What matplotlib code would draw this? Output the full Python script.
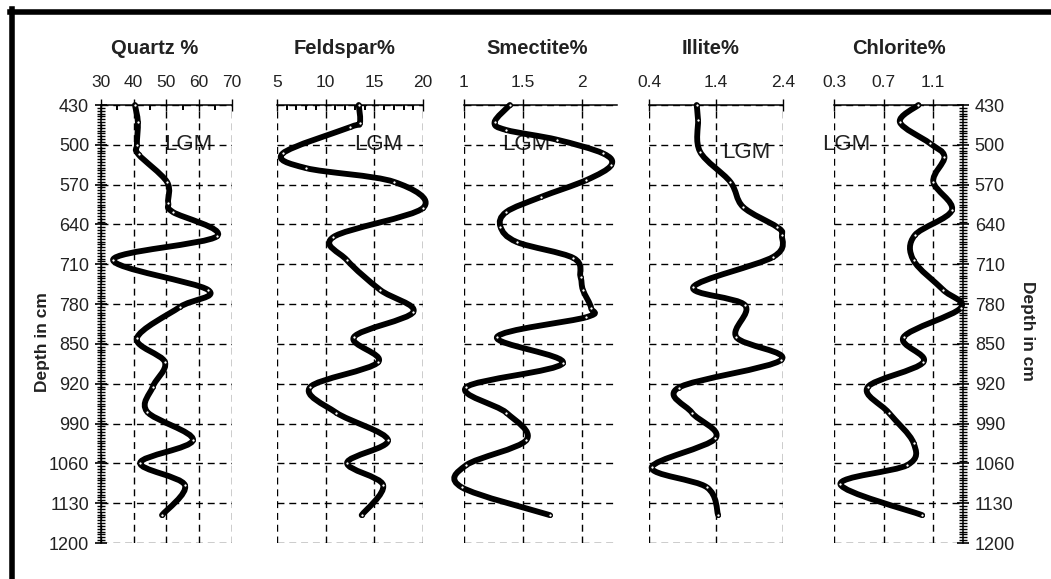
import matplotlib
matplotlib.use("Agg")
import matplotlib.pyplot as plt
import numpy as np
from matplotlib.path import Path
from matplotlib.patches import PathPatch
from matplotlib.lines import Line2D
from matplotlib.ticker import MultipleLocator

plt.rcParams['font.family'] = ['Liberation Sans', 'DejaVu Sans']

# depth ticks shared by all panels (cm)
depth_ticks = [430, 500, 570, 640, 710, 780, 850, 920, 990, 1060, 1130, 1200]

# values: (percent, depth in cm)
quartz_val = [40.4, 41.3, 41.0, 41.5, 50.2, 50.6, 52.0, 65.5, 33.7, 62.8, 54.2, 41.0,
              49.6, 45.9, 44.1, 58.2, 42.0, 55.7, 48.7]
quartz_dep = [430, 460, 500, 517, 565, 602, 618, 661, 702, 755, 785, 840,
              882, 925, 969, 1019, 1059, 1098, 1151]

feldspar_val = [13.4, 13.5, 12.5, 5.6, 8.0, 17.0, 20.0, 10.8, 12.2, 15.6, 19.0, 12.9,
                15.4, 8.4, 11.1, 16.4, 12.2, 15.9, 13.7]
feldspar_dep = [430, 462, 469, 515, 541, 565, 611, 662, 703, 755, 794, 838,
                882, 926, 971, 1019, 1059, 1098, 1151]

smectite_val = [1.39, 1.26, 1.36, 1.79, 2.18, 2.25, 2.04, 1.65, 1.36, 1.31, 1.45, 1.93,
                1.99, 2.01, 2.08, 2.04, 1.28, 1.84, 1.02, 1.36, 1.53, 1.02, 0.98, 1.73]
smectite_dep = [430, 460, 474, 491, 515, 536, 562, 592, 618, 644, 671, 699,
                732, 755, 787, 803, 838, 884, 926, 971, 1019, 1063, 1102, 1151]

illite_val = [1.11, 1.13, 1.16, 1.61, 1.80, 2.30, 2.38, 2.25, 1.06, 1.83, 1.70, 2.37,
              0.84, 1.04, 1.39, 0.44, 1.26, 1.43]
illite_dep = [430, 456, 512, 565, 609, 644, 659, 697, 750, 782, 838, 878,
              927, 971, 1016, 1067, 1102, 1151]

chlorite_val = [0.98, 0.83, 1.07, 1.19, 1.10, 1.25, 0.95, 0.94, 1.18, 1.32, 0.86, 1.02,
                0.57, 0.74, 0.94, 0.89, 0.35, 1.01]
chlorite_dep = [430, 460, 497, 521, 565, 615, 659, 703, 755, 787, 838, 882,
                926, 971, 1024, 1063, 1097, 1151]

titles = ['Quartz %', 'Feldspar%', 'Smectite%', 'Illite%', 'Chlorite%']
xticks = [[30, 40, 50, 60, 70], [5, 10, 15, 20], [1, 1.5, 2], [0.4, 1.4, 2.4], [0.3, 0.7, 1.1]]
xticklabels = [['30', '40', '50', '60', '70'], ['5', '10', '15', '20'], ['1', '1.5', '2'],
               ['0.4', '1.4', '2.4'], ['0.3', '0.7', '1.1']]
xlims = [(30, 70), (5, 20), (1, 2.3), (0.4, 2.4), (0.3, 1.34)]
minor_step = [5, 1, None, None, None]
lgm_pos = [(56.7, 500), (15.4, 500), (1.53, 500), (1.85, 513), (0.40, 500)]

# layout in pixels (left, width) of each panel
W, H = 1051, 579
panel_px = [(101, 130.5), (277, 146), (464, 153), (649, 134.3), (834.3, 128.7)]
top_px, bot_px = 105, 543
title_x = [0.414, 0.46, 0.48, 0.46, 0.50]


def smooth_path(xs, ys):
    # Excel-like smoothed line through the points (Catmull-Rom as Bezier)
    pts = np.column_stack([xs, ys]).astype(float)
    verts = [pts[0]]
    codes = [Path.MOVETO]
    n = len(pts)
    for i in range(n - 1):
        p0 = pts[i - 1] if i > 0 else pts[i]
        p1 = pts[i]
        p2 = pts[i + 1]
        p3 = pts[i + 2] if i + 2 < n else pts[i + 1]
        verts += [p1 + (p2 - p0) / 6, p2 - (p3 - p1) / 6, p2]
        codes += [Path.CURVE4] * 3
    return Path(verts, codes)


fig = plt.figure(figsize=(W / 100, H / 100), dpi=100)

series = [(quartz_val, quartz_dep), (feldspar_val, feldspar_dep), (smectite_val, smectite_dep),
          (illite_val, illite_dep), (chlorite_val, chlorite_dep)]

dash = (0, (5, 3.5))
for i, (vals, deps) in enumerate(series):
    left, width = panel_px[i]
    ax = fig.add_axes([left / W, 1 - bot_px / H, width / W, (bot_px - top_px) / H])
    ax.set_xlim(*xlims[i])
    ax.set_ylim(1200, 430)

    for s in ['left', 'right', 'bottom']:
        ax.spines[s].set_visible(False)
    ax.spines['top'].set_linewidth(1.1)

    ax.xaxis.set_ticks_position('top')
    ax.set_xticks(xticks[i])
    ax.set_xticklabels(xticklabels[i])
    if minor_step[i]:
        ax.xaxis.set_minor_locator(MultipleLocator(minor_step[i]))
    ax.tick_params(axis='x', which='major', direction='inout', length=8, width=1,
                   pad=7, labelsize=12.5, labelcolor='#222222')
    ax.tick_params(axis='x', which='minor', direction='in', length=3.5, width=1.4)

    ax.set_yticks(depth_ticks)
    ax.tick_params(axis='y', left=False, right=False, labelleft=False, labelright=False)

    ax.set_axisbelow(False)
    ax.grid(True, which='major', color='black', linestyle=dash, linewidth=1.0)

    if i == 0 or i == 4:
        side = 'left' if i == 0 else 'right'
        ax.spines[side].set_visible(True)
        ax.spines[side].set_linewidth(1.1)
        ax.yaxis.set_ticks_position(side)
        ax.yaxis.set_minor_locator(MultipleLocator(5))
        ax.tick_params(axis='y', which='major', direction='inout', length=9, width=1.2,
                       pad=4, labelsize=13, labelcolor='#222222',
                       **{side: True, 'label' + side: True})
        ax.tick_params(axis='y', which='minor', direction='inout', length=6, width=1.0,
                       **{side: True})

    ax.set_title(titles[i], x=title_x[i], y=1.128, pad=0, va='center', fontsize=14.5,
                 fontweight='bold', color='#222222')

    ax.text(lgm_pos[i][0], lgm_pos[i][1], 'LGM', ha='center', va='center',
            fontsize=16, color='#222222', zorder=1)

    ax.add_patch(PathPatch(smooth_path(vals, deps), fill=False, edgecolor='black',
                           linewidth=4.2, capstyle='round', joinstyle='round', zorder=3,
                           clip_on=False))
    ax.plot(vals, deps, 'o', ms=2.6, mfc='white', mec='black', mew=0.9, zorder=4,
            clip_on=False)

fig.text(42 / W, 1 - 342 / H, 'Depth in cm', rotation=90, ha='center', va='center',
         fontsize=12.5, fontweight='bold', color='#222222')
fig.text(1027 / W, 1 - 331 / H, 'Depth in cm', rotation=-90, ha='center', va='center',
         fontsize=12.5, fontweight='bold', color='#222222')

# thick frame on top and left
fig.add_artist(Line2D([11.5 / W, 11.5 / W], [0, 1 - 9 / H], color='black', linewidth=4,
                      transform=fig.transFigure))
fig.add_artist(Line2D([9.5 / W, 1], [1 - 11.5 / H, 1 - 11.5 / H], color='black', linewidth=4,
                      transform=fig.transFigure))

fig.savefig('out.png', dpi=100)
